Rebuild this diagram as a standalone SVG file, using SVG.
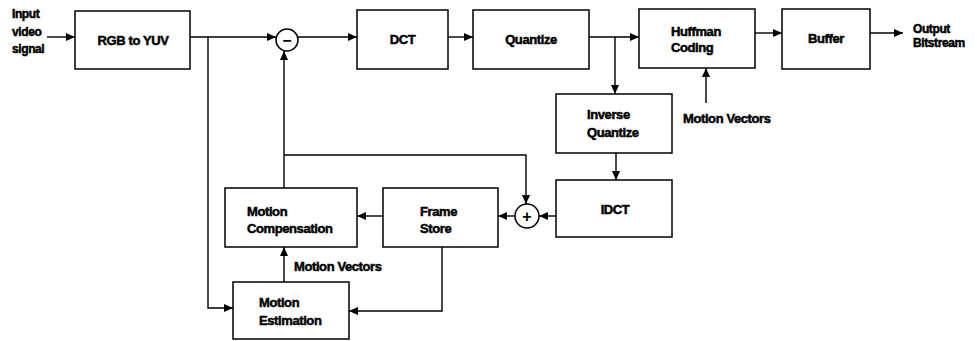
<svg xmlns="http://www.w3.org/2000/svg" width="977" height="341" viewBox="0 0 977 341">
<style>
.box{fill:#fff;stroke:#000;stroke-width:1.5}
.ln{fill:none;stroke:#000;stroke-width:1.4}
.t{font-family:"Liberation Sans",Arial,sans-serif;font-weight:bold;font-size:13px;fill:#000;stroke:#000;stroke-width:0.5;letter-spacing:-0.4px}
.c{text-anchor:middle}
.s{font-size:12px}
.sym{font-family:"Liberation Sans",Arial,sans-serif;font-weight:bold;font-size:16px;text-anchor:middle;fill:#000}
</style>
<defs>
<marker id="ah" markerWidth="10" markerHeight="8" refX="9" refY="4" orient="auto" markerUnits="userSpaceOnUse">
<path d="M0,0 L9,4 L0,8 z" fill="#000"/>
</marker>
</defs>
<rect width="977" height="341" fill="#fff"/>

<g id="input">
<text class="t s" x="12" y="18">Input</text>
<text class="t s" x="12" y="36">video</text>
<text class="t s" x="12" y="53">signal</text>
</g>
<g id="rgb2yuv">
<rect class="box" x="75" y="11" width="115" height="58"/>
<text class="t c" x="133" y="45">RGB to YUV</text>
</g>
<g id="subtract">
<circle class="box" cx="287" cy="40" r="11"/>
<text class="sym" x="287" y="46">−</text>
</g>
<g id="dct">
<rect class="box" x="357" y="10" width="91" height="59"/>
<text class="t c" x="402.5" y="44">DCT</text>
</g>
<g id="quantize">
<rect class="box" x="473" y="10" width="116" height="59"/>
<text class="t c" x="531" y="44">Quantize</text>
</g>
<g id="huffman">
<rect class="box" x="639" y="9" width="116" height="59"/>
<text class="t" x="671" y="36">Huffman</text>
<text class="t" x="671" y="52">Coding</text>
</g>
<g id="buffer">
<rect class="box" x="782" y="9" width="88" height="60"/>
<text class="t c" x="826" y="43">Buffer</text>
</g>
<g id="output">
<text class="t s" x="913" y="33">Output</text>
<text class="t s" x="913" y="47">Bitstream</text>
</g>
<g id="mv-top">
<text class="t" x="683" y="123">Motion Vectors</text>
</g>
<g id="invquant">
<rect class="box" x="556" y="94" width="116" height="59"/>
<text class="t" x="587" y="119">Inverse</text>
<text class="t" x="587" y="137">Quantize</text>
</g>
<g id="idct">
<rect class="box" x="556" y="180" width="116" height="57"/>
<text class="t c" x="615" y="214">IDCT</text>
</g>
<g id="add">
<circle class="box" cx="527" cy="216" r="12"/>
<text class="sym" x="527" y="222">+</text>
</g>
<g id="framestore">
<rect class="box" x="383" y="188" width="115" height="59"/>
<text class="t" x="420" y="216">Frame</text>
<text class="t" x="420" y="233">Store</text>
</g>
<g id="motioncomp">
<rect class="box" x="225" y="188" width="132" height="59"/>
<text class="t" x="247" y="216">Motion</text>
<text class="t" x="247" y="233">Compensation</text>
</g>
<g id="mv-bottom">
<text class="t" x="294" y="271">Motion Vectors</text>
</g>
<g id="motionest">
<rect class="box" x="233" y="282" width="116" height="57"/>
<text class="t" x="259" y="307">Motion</text>
<text class="t" x="259" y="325">Estimation</text>
</g>

<g id="connectors">
<path class="ln" d="M47,37 H75" marker-end="url(#ah)"/>
<path class="ln" d="M190,37 H276" marker-end="url(#ah)"/>
<path class="ln" d="M298,37 H357" marker-end="url(#ah)"/>
<path class="ln" d="M448,37 H473" marker-end="url(#ah)"/>
<path class="ln" d="M589,37 H639" marker-end="url(#ah)"/>
<path class="ln" d="M615,37 V94" marker-end="url(#ah)"/>
<path class="ln" d="M755,33 H782" marker-end="url(#ah)"/>
<path class="ln" d="M870,33 H903" marker-end="url(#ah)"/>
<path class="ln" d="M706,103 V68" marker-end="url(#ah)"/>
<path class="ln" d="M616,153 V180" marker-end="url(#ah)"/>
<path class="ln" d="M556,216 H539" marker-end="url(#ah)"/>
<path class="ln" d="M515,216 H498" marker-end="url(#ah)"/>
<path class="ln" d="M383,216 H357" marker-end="url(#ah)"/>
<path class="ln" d="M284,188 V51" marker-end="url(#ah)"/>
<path class="ln" d="M284,155 H526 V204" marker-end="url(#ah)"/>
<path class="ln" d="M208,37 V308 H233" marker-end="url(#ah)"/>
<path class="ln" d="M442,247 V311 H349" marker-end="url(#ah)"/>
<path class="ln" d="M284,282 V247" marker-end="url(#ah)"/>
</g>
</svg>
